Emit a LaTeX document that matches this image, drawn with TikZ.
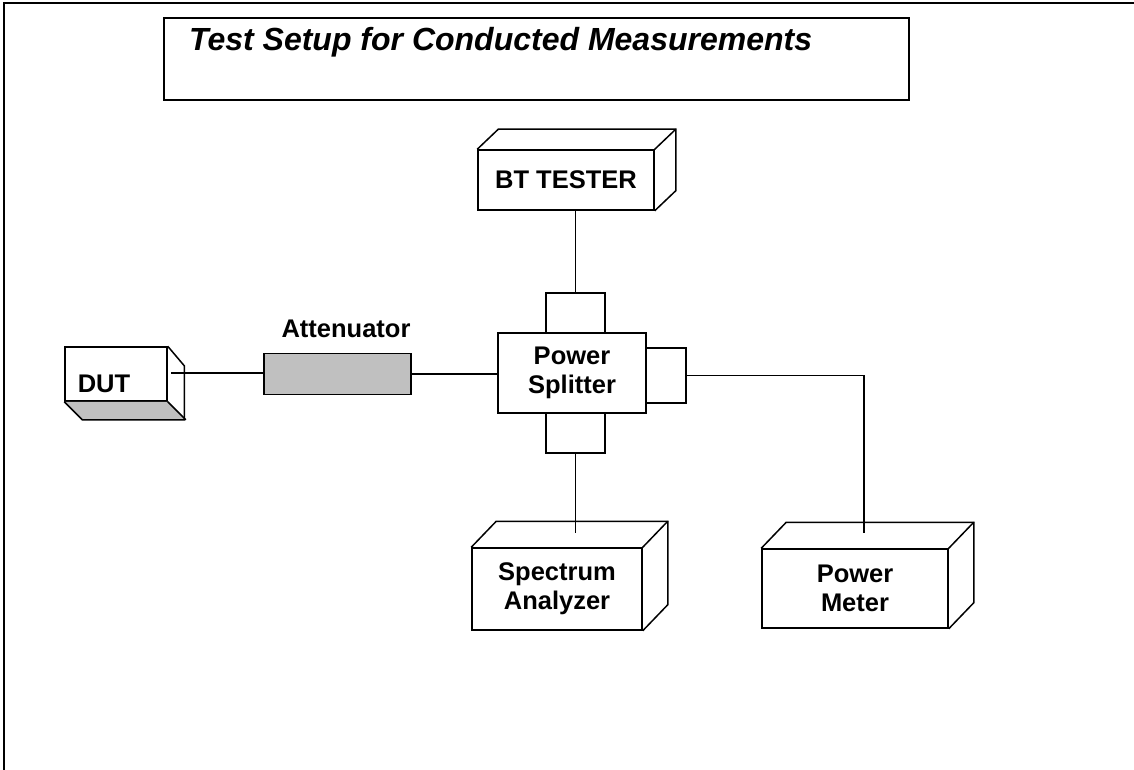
\documentclass[tikz,border=0pt]{standalone}
\usepackage{fontspec}
\setmainfont{Liberation Sans}
\usepackage{xcolor}
\definecolor{boxgray}{RGB}{192,192,192}
\usetikzlibrary{calc}

\newcommand{\lblfont}{\fontsize{25.5}{29}\selectfont\bfseries}
\newcommand{\ttlfont}{\fontsize{32}{36}\selectfont\bfseries\itshape}

\begin{document}
\begin{tikzpicture}[x=1pt, y=-1pt,
  box/.style={draw, line width=1.5pt, rectangle, inner sep=0pt, align=center, font=\lblfont},
  face/.style={line width=1.5pt, line join=miter},
  wire/.style={line width=1.3pt}]
\useasboundingbox (0,0) rectangle (1134,770);

% ===== Frame and title =====
\draw[line width=1.8pt] (4,770) -- (4,3) -- (1134,3);
\node[draw, line width=1.5pt, minimum width=745, minimum height=82, inner sep=0pt] (ttlbox) at (536.5,59) {};
\node[font=\ttlfont, anchor=base west, inner sep=0pt] (ttl) at (189,51) {Test Setup for Conducted Measurements};

% ===== DUT =====
\node[box, fill=white, minimum width=102, minimum height=54] (dut) at (116,374) {};
\fill[boxgray] (dut.south west) -- ++(18,18) -- ++(102,0) -- (dut.south east) -- cycle;
\draw[face] (dut.south west) -- ++(18,18) -- ++(102,0) -- ++(0,-54) -- (dut.north east);
\draw[face] (dut.south east) -- ++(18,18);
\node[font=\lblfont, anchor=base, inner sep=0pt] (dutlbl) at (104,392) {DUT};

% ===== Attenuator =====
\node[box, fill=boxgray, minimum width=147, minimum height=41] (att) at (337.5,374) {};
\node[font=\lblfont, anchor=base, inner sep=0pt] (attlbl) at (346,337) {Attenuator};

% ===== Power splitter and its ports =====
\node[box, minimum width=148, minimum height=80] (split) at (572,373) {Power\\Splitter};
\node[box, minimum width=59, minimum height=40] (ptop) at (575.5,313) {};
\node[box, minimum width=59, minimum height=40] (pbot) at (575.5,433) {};
\node[box, minimum width=40, minimum height=55] (pright) at (666,375.5) {};

% ===== Instruments =====
\node[box, minimum width=176, minimum height=60] (tester) at (566,180) {BT TESTER};
\node[box, minimum width=170, minimum height=82] (analyzer) at (557,589) {Spectrum\\Analyzer};
\node[box, minimum width=186, minimum height=79] (meter) at (855,588.5) {Power\\Meter};

\foreach \n/\dx/\dy in {tester/21/-20, analyzer/25/-26, meter/25/-26} {
  \draw[face] (\n.north west) -- ++(\dx,\dy) -- ($(\n.north east)+(\dx,\dy)$)
    -- ($(\n.south east)+(\dx,\dy)$) -- (\n.south east);
  \draw[face] (\n.north east) -- ++(\dx,\dy);
}

% ===== Cables =====
\coordinate (dutout) at (171,373);
\coordinate (antop) at (576,533);
\coordinate (mtop) at (864,533);

\draw[wire] (dutout) -- (dutout -| att.west);
\draw[wire] (att.east) -- (att.east -| split.west);
\draw[wire] (ptop.north) -- (ptop.north |- tester.south);
\draw[wire] (pbot.south) -- (pbot.south |- antop);
\draw[wire] (pright.east) -| (mtop);

\end{tikzpicture}
\end{document}
